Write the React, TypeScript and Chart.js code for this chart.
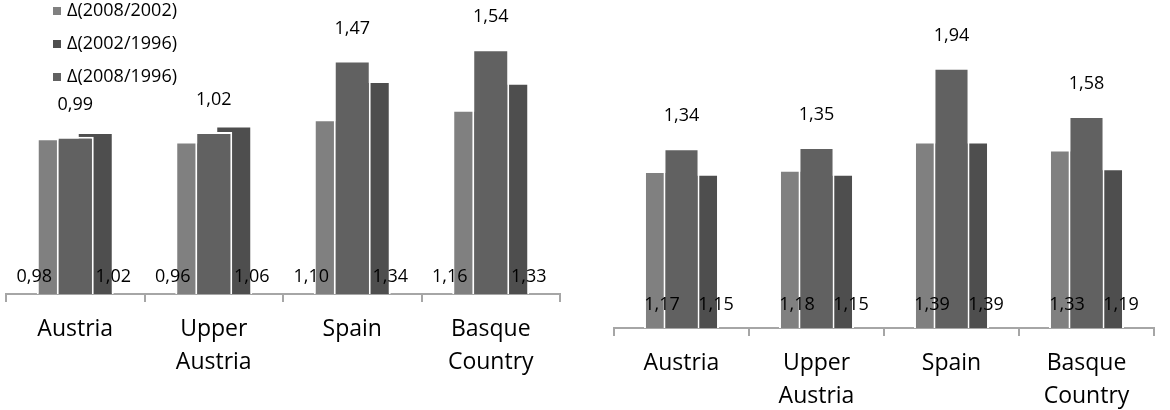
import React, { useEffect, useRef } from 'react';
import { Chart, registerables } from 'chart.js';

Chart.register(...registerables);

// ---------- data ----------
const categories = ['Austria', 'Upper Austria', 'Spain', 'Basque Country'];
// series shown in legend order
const seriesNames = ['Δ(2008/2002)', 'Δ(2002/1996)', 'Δ(2008/1996)'];

// left panel
const leftD0802 = [0.98, 0.96, 1.1, 1.16];
const leftD0296 = [1.02, 1.06, 1.34, 1.33];
const leftD0896 = [0.99, 1.02, 1.47, 1.54];

// right panel
const rightD0802 = [1.17, 1.18, 1.39, 1.33];
const rightD0296 = [1.15, 1.15, 1.39, 1.19];
const rightD0896 = [1.34, 1.35, 1.94, 1.58];

const leftAxisMax = 1.8;
const rightAxisMax = 2.4;

// ---------- styles ----------
const colD0802 = '#808080';
const colD0296 = '#4e4e4e';
const colD0896 = '#616161';
const FONT = '"Open Sans", "Noto Sans", sans-serif';

type LabelCfg = { topGap: number; leftDx: number; rightDx: number; bottomGap: number };

function fmt(v: number) {
  return v.toFixed(2).replace('.', ',');
}

function makeValueLabels(cfg: LabelCfg) {
  return {
    id: 'valueLabels',
    beforeDatasetDraw(chart: any, args: any) {
      // the middle series is drawn last (on top of its neighbours)
      if (chart.data.datasets[args.index].role === 'mid') return false;
      return true;
    },
    afterDatasetsDraw(chart: any) {
      const ctx = chart.ctx;
      chart.data.datasets.forEach((ds: any, di: number) => {
        if (ds.role === 'mid') chart.getDatasetMeta(di).controller.draw();
      });
      const axisY = chart.scales.y.getPixelForValue(0);
      ctx.save();
      ctx.font = `18px ${FONT}`;
      ctx.fillStyle = '#000';
      ctx.textAlign = 'center';
      ctx.textBaseline = 'middle';
      chart.data.datasets.forEach((ds: any, di: number) => {
        const meta = chart.getDatasetMeta(di);
        meta.data.forEach((el: any, i: number) => {
          const txt = fmt(ds.data[i]);
          let x: number;
          let y: number;
          if (ds.role === 'mid') {
            x = el.x;
            y = el.y - cfg.topGap;
          } else if (ds.role === 'left') {
            x = el.x + cfg.leftDx;
            y = axisY - cfg.bottomGap;
          } else {
            x = el.x + cfg.rightDx;
            y = axisY - cfg.bottomGap;
          }
          ctx.fillText(txt, x, y);
        });
      });
      ctx.restore();
    },
  };
}

const cornerLegend = {
  id: 'cornerLegend',
  afterDraw(chart: any) {
    const ctx = chart.ctx;
    ctx.save();
    ctx.font = `18px ${FONT}`;
    ctx.textBaseline = 'middle';
    ctx.textAlign = 'left';
    seriesNames.forEach((name, i) => {
      const ds = chart.data.datasets.find((d: any) => d.label === name);
      if (!ds) return;
      const y = 11 + i * 33;
      ctx.fillStyle = ds.backgroundColor;
      ctx.fillRect(53, y - 4, 8, 8);
      ctx.fillStyle = '#000';
      ctx.fillText(name, 67, y);
    });
    ctx.restore();
  },
};

type PanelProps = {
  left: number;
  width: number;
  d0802: number[];
  d0296: number[];
  d0896: number[];
  yMax: number;
  padding: { left: number; right: number; top: number };
  axisHeight: number;
  labelCfg: LabelCfg;
  showLegend: boolean;
};

function Panel(props: PanelProps) {
  const ref = useRef<HTMLCanvasElement | null>(null);

  useEffect(() => {
    let chart: Chart | null = null;
    let cancelled = false;
    const build = () => {
      if (cancelled || !ref.current) return;
      const axisColor = '#a6a6a6';
      const plugins: any[] = [makeValueLabels(props.labelCfg)];
      if (props.showLegend) plugins.push(cornerLegend);
      const common = { borderColor: '#ffffff', borderWidth: 2 };
      chart = new Chart(ref.current, {
        type: 'bar',
        data: {
          labels: categories,
          datasets: [
            { label: seriesNames[0], data: props.d0802, backgroundColor: colD0802, role: 'left', ...common } as any,
            { label: seriesNames[2], data: props.d0896, backgroundColor: colD0896, role: 'mid', ...common } as any,
            { label: seriesNames[1], data: props.d0296, backgroundColor: colD0296, role: 'right', ...common } as any,
          ],
        },
        options: {
          responsive: false,
          animation: false,
          devicePixelRatio: 1,
          datasets: {
            bar: { categoryPercentage: 0.4332, barPercentage: 1.85 },
          },
          layout: {
            padding: { left: props.padding.left, right: props.padding.right, top: props.padding.top, bottom: 0 },
          },
          plugins: {
            legend: { display: false },
            tooltip: { enabled: false },
          },
          scales: {
            x: {
              type: 'category',
              offset: true,
              afterFit: (scale: any) => {
                scale.height = props.axisHeight;
              },
              grid: {
                display: true,
                drawOnChartArea: false,
                drawTicks: true,
                tickLength: 8,
                offset: true,
                color: axisColor,
                lineWidth: 2,
              },
              border: { display: true, color: axisColor, width: 2 },
              ticks: {
                autoSkip: false,
                maxRotation: 0,
                minRotation: 0,
                padding: 11,
                color: '#000',
                font: { family: FONT, size: 23, lineHeight: 33 / 23 },
                callback: function (this: any, value: any) {
                  const l = this.getLabelForValue(value) as string;
                  return l.includes(' ') ? l.split(' ') : l;
                },
              },
            },
            y: {
              display: false,
              min: 0,
              max: props.yMax,
            },
          },
        } as any,
        plugins,
      });
    };
    const fonts: any = (document as any).fonts;
    if (fonts && fonts.load) {
      Promise.all([fonts.load(`18px "Open Sans"`), fonts.load(`23px "Open Sans"`)])
        .catch(() => null)
        .then(build);
    } else {
      build();
    }
    return () => {
      cancelled = true;
      if (chart) chart.destroy();
    };
  }, []);

  return (
    <canvas
      ref={ref}
      width={props.width}
      height={410}
      style={{ position: 'absolute', left: props.left, top: 0, width: props.width, height: 410 }}
    />
  );
}

export default function App() {
  return (
    <div
      style={{
        position: 'absolute',
        left: 0,
        top: 0,
        width: 1170,
        height: 410,
        background: '#ffffff',
        overflow: 'hidden',
      }}
    >
      <Panel
        left={0}
        width={580}
        d0802={leftD0802}
        d0296={leftD0296}
        d0896={leftD0896}
        yMax={leftAxisMax}
        padding={{ left: 6, right: 20, top: 8 }}
        axisHeight={116}
        labelCfg={{ topGap: 32, leftDx: -21, rightDx: 18, bottomGap: 17 }}
        showLegend={true}
      />
      <Panel
        left={585}
        width={585}
        d0802={rightD0802}
        d0296={rightD0296}
        d0896={rightD0896}
        yMax={rightAxisMax}
        padding={{ left: 29, right: 16, top: 6 }}
        axisHeight={82}
        labelCfg={{ topGap: 32, leftDx: 0, rightDx: 15, bottomGap: 23 }}
        showLegend={false}
      />
    </div>
  );
}
